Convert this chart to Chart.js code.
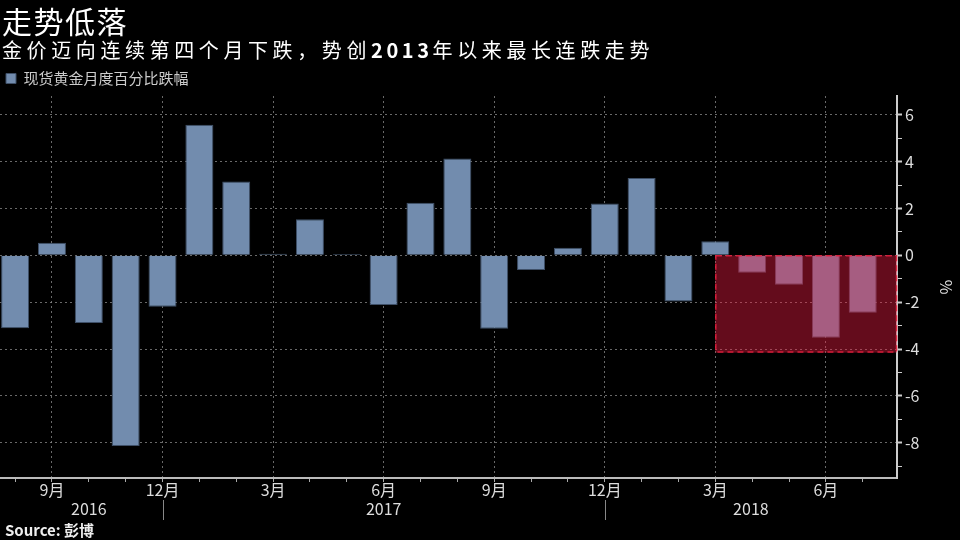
<!DOCTYPE html>
<html lang="zh">
  <head>
    <meta charset="UTF-8" />
    <title>走势低落</title>
    <script src="https://cdn.jsdelivr.net/npm/chart.js@4.4.1/dist/chart.umd.min.js"></script>
    <style>
      body {
        margin: 0;
        background: #000;
        font-family: "Noto Sans CJK SC", "Noto Sans", sans-serif;
      }
      #wrap {
        position: relative;
        width: 960px;
        height: 540px;
        overflow: hidden;
      }
      #chart {
        position: absolute;
        left: 0;
        top: 0;
      }
      .txt {
        position: absolute;
        white-space: nowrap;
        line-height: 1;
        color: #fff;
      }
      #title { left: 2px; top: 5px; font-size: 30px; letter-spacing: 1.5px; }
      #subtitle { left: 2px; top: 40px; font-size: 20px; letter-spacing: 4.6px; }
      #subtitle b { letter-spacing: 3.6px; }
      #source { left: 5px; top: 522px; font-size: 15px; font-weight: bold; color: #eee; }
    </style>
  </head>
  <body>
    <div id="wrap">
      <canvas id="chart" width="960" height="540"></canvas>
      <div class="txt" id="title">走势低落</div>
      <div class="txt" id="subtitle">金价迈向连续第四个月下跌，势创<b>2013</b>年以来最长连跌走势</div>
      <div class="txt" id="source">Source: 彭博</div>
    </div>

    <script>
      // monthly data, Aug 2016 .. Jul 2018
      var monthNum = [8, 9, 10, 11, 12, 1, 2, 3, 4, 5, 6, 7, 8, 9, 10, 11, 12, 1, 2, 3, 4, 5, 6, 7];
      var yearOf = [
        2016, 2016, 2016, 2016, 2016,
        2017, 2017, 2017, 2017, 2017, 2017, 2017, 2017, 2017, 2017, 2017, 2017,
        2018, 2018, 2018, 2018, 2018, 2018, 2018,
      ];
      var changes = [
        -3.11, 0.54, -2.89, -8.13, -2.19,
        5.57, 3.15, 0.07, 1.54, 0.06, -2.12, 2.25, 4.13, -3.13, -0.62, 0.33, 2.21,
        3.3, -1.97, 0.6, -0.74, -1.25, -3.52, -2.45,
      ];
      var seriesName = "现货黄金月度百分比跌幅";
      var labelMonths = [3, 6, 9, 12];
      var yTickValues = [-9, -8, -7, -6, -5, -4, -3, -2, -1, 0, 1, 2, 3, 4, 5, 6];
      var yLabelValues = [-8, -6, -4, -2, 0, 2, 4, 6];

      // highlighted losing streak (from Mar 2018 onward, down to this level)
      var streakFrom = 19;
      var streakLow = -4.15;

      var points = changes.map(function (v, i) {
        return { x: i, y: v };
      });

      var streakBox = {
        id: "streakBox",
        afterDatasetsDraw: function (chart) {
          var xs = chart.scales.x, ys = chart.scales.y, ctx = chart.ctx;
          var x1 = xs.getPixelForValue(streakFrom);
          var x2 = chart.chartArea.right;
          var y1 = ys.getPixelForValue(0);
          var y2 = ys.getPixelForValue(streakLow);
          ctx.save();
          ctx.fillStyle = "rgba(238, 28, 66, 0.42)";
          ctx.fillRect(x1, y1, x2 - x1, y2 - y1);
          ctx.setLineDash([6, 4]);
          ctx.lineWidth = 1.5;
          ctx.strokeStyle = "rgba(225, 30, 60, 0.9)";
          ctx.strokeRect(x1 + 0.5, y1 + 0.5, x2 - x1 - 1, y2 - y1 - 1);
          ctx.restore();
        },
      };

      // year row under the month labels
      var yearRow = {
        id: "yearRow",
        afterDraw: function (chart) {
          var xs = chart.scales.x, ctx = chart.ctx;
          var bottom = chart.chartArea.bottom;
          var years = [];
          yearOf.forEach(function (y) {
            if (years.indexOf(y) < 0) years.push(y);
          });
          ctx.save();
          ctx.fillStyle = "#ddd";
          ctx.strokeStyle = "#888";
          ctx.lineWidth = 1;
          ctx.font = "16px 'Noto Sans CJK SC', 'Noto Sans', sans-serif";
          ctx.textAlign = "center";
          ctx.textBaseline = "middle";
          years.forEach(function (y, k) {
            var first = yearOf.indexOf(y);
            var last = yearOf.lastIndexOf(y);
            var start = k === 0 ? xs.getPixelForValue(first) : xs.getPixelForValue(first - 1);
            var end = k === years.length - 1 ? chart.chartArea.right : xs.getPixelForValue(last);
            ctx.fillText(String(y), (start + end) / 2, bottom + 31);
            if (k < years.length - 1) {
              var sx = Math.round(end) + 0.5;
              ctx.beginPath();
              ctx.moveTo(sx, bottom + 22);
              ctx.lineTo(sx, bottom + 42);
              ctx.stroke();
            }
          });
          ctx.restore();
        },
      };

      Chart.defaults.font.family = "'Noto Sans CJK SC', 'Noto Sans', sans-serif";
      Chart.defaults.color = "#ddd";

      var ctx = document.getElementById("chart").getContext("2d");
      var myChart = new Chart(ctx, {
        type: "bar",
        data: {
          datasets: [
            {
              label: seriesName,
              data: points,
              backgroundColor: "#728cae",
              borderColor: "#3f5068",
              borderWidth: 1,
              categoryPercentage: 1,
              barPercentage: 0.76,
            },
          ],
        },
        options: {
          responsive: false,
          animation: false,
          layout: { padding: { top: 65, left: 0, right: 0, bottom: 0 } },
          plugins: {
            legend: {
              align: "start",
              labels: {
                boxWidth: 10,
                boxHeight: 10,
                padding: 6,
                color: "#ccc",
                font: { size: 15 },
              },
            },
            tooltip: { enabled: false },
          },
          scales: {
            x: {
              type: "linear",
              offset: false,
              min: -0.41,
              max: 23.93,
              afterBuildTicks: function (scale) {
                scale.ticks = monthNum.map(function (m, i) {
                  return { value: i };
                });
              },
              afterFit: function (scale) {
                scale.height = 62;
              },
              ticks: {
                autoSkip: false,
                maxRotation: 0,
                padding: -2,
                color: "#ddd",
                font: { size: 16 },
                callback: function (v) {
                  var m = monthNum[v];
                  return labelMonths.indexOf(m) >= 0 ? m + "月" : "";
                },
              },
              grid: {
                offset: false,
                tickLength: 4,
                tickColor: "#aaa",
                color: function (c) {
                  var m = monthNum[c.tick ? c.tick.value : -1];
                  return labelMonths.indexOf(m) >= 0 ? "rgba(140,140,140,0.75)" : "transparent";
                },
              },
              border: { color: "#bbb", width: 2, dash: [2, 3] },
            },
            y: {
              position: "right",
              min: -9.5,
              max: 6.8,
              afterBuildTicks: function (scale) {
                scale.ticks = yTickValues.map(function (v) {
                  return { value: v };
                });
              },
              afterFit: function (scale) {
                scale.width = 63;
              },
              ticks: {
                padding: 3,
                color: "#ddd",
                font: { size: 16 },
                callback: function (v) {
                  return yLabelValues.indexOf(v) >= 0 ? String(v) : "";
                },
              },
              grid: {
                tickLength: 5,
                tickColor: "#ccc",
                tickWidth: function (c) {
                  return c.tick && yLabelValues.indexOf(c.tick.value) >= 0 ? 2 : 1;
                },
                color: function (c) {
                  return c.tick && yLabelValues.indexOf(c.tick.value) >= 0
                    ? "rgba(140,140,140,0.75)"
                    : "transparent";
                },
              },
              border: { color: "#ccc", width: 2, dash: [2, 3] },
              title: {
                display: true,
                text: "%",
                color: "#ddd",
                font: { size: 16 },
              },
            },
          },
        },
        plugins: [streakBox, yearRow],
      });
    </script>
  </body>
</html>
